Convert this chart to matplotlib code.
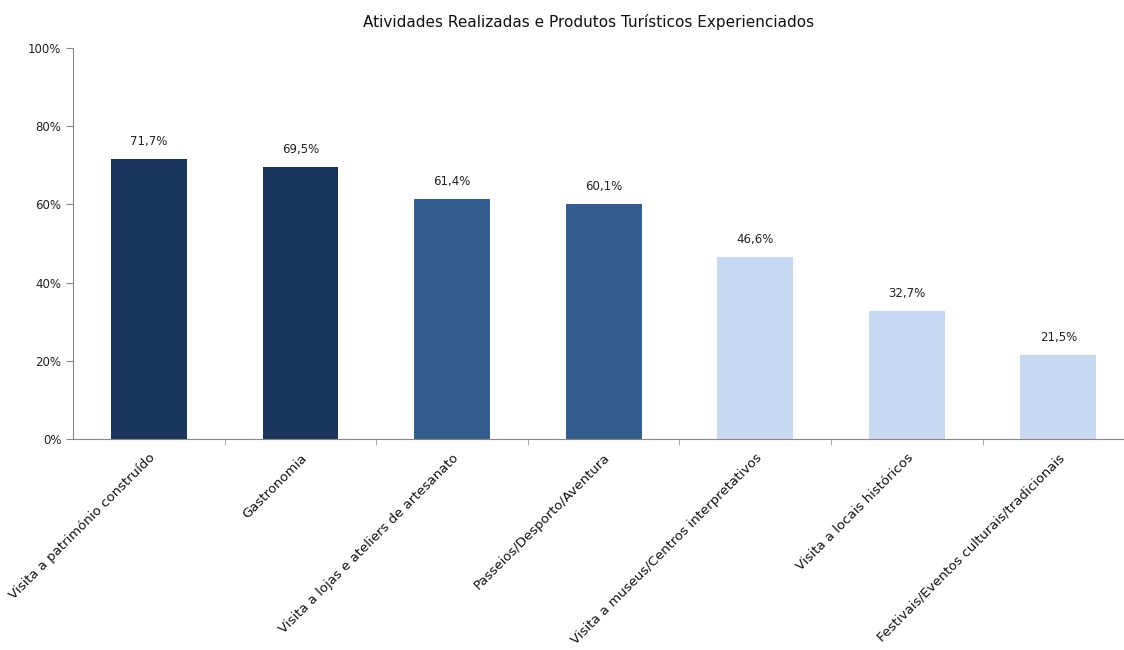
import numpy as np
import matplotlib
matplotlib.use("Agg")
import matplotlib.pyplot as plt
from matplotlib.ticker import FuncFormatter, FixedLocator

# Data
categorias = [
    "Visita a património construído",
    "Gastronomia",
    "Visita a lojas e ateliers de artesanato",
    "Passeios/Desporto/Aventura",
    "Visita a museus/Centros interpretativos",
    "Visita a locais históricos",
    "Festivais/Eventos culturais/tradicionais",
]
valores = [71.7, 69.5, 61.4, 60.1, 46.6, 32.7, 21.5]
cores = ["#1b365d", "#1b365d", "#345d8f", "#345d8f", "#c6d9f0", "#c6d9f0", "#c6d9f0"]
y_ticks = [0, 20, 40, 60, 80, 100]

fig = plt.figure(figsize=(11.24, 6.5), dpi=100)
ax = fig.add_axes([0.065, 0.3246, 0.94, 0.6015])

x = np.arange(len(categorias))
bars = ax.bar(x, valores, width=0.5, color=cores)

# value labels
for xi, v in zip(x, valores):
    ax.annotate(f"{v:.1f}%".replace(".", ","), (xi, v), xytext=(0, 8),
                textcoords="offset points", ha="center", va="bottom",
                fontsize=8.5, color="#222222")

ax.set_ylim(0, 100)
ax.set_xlim(-0.5, 6.47)
ax.set_yticks(y_ticks)
ax.yaxis.set_major_formatter(FuncFormatter(lambda v, p: f"{v:.0f}%"))
ax.tick_params(axis="y", labelsize=8.5, length=5, color="#888888", labelcolor="#222222")

ax.set_xticks(x)
ax.set_xticklabels(categorias, rotation=45, ha="right", rotation_mode="anchor",
                   fontsize=9.5, color="#111111")
ax.tick_params(axis="x", which="major", length=0, pad=9)
ax.xaxis.set_minor_locator(FixedLocator(np.arange(0.5, 6.5, 1)))
ax.tick_params(axis="x", which="minor", length=4, color="#999999")

for s in ["top", "right"]:
    ax.spines[s].set_visible(False)
for s in ["left", "bottom"]:
    ax.spines[s].set_color("#888888")

fig.suptitle("Atividades Realizadas e Produtos Turísticos Experienciados",
             x=0.524, y=0.978, fontsize=11, color="#111111")

fig.savefig("out.png", dpi=100)
